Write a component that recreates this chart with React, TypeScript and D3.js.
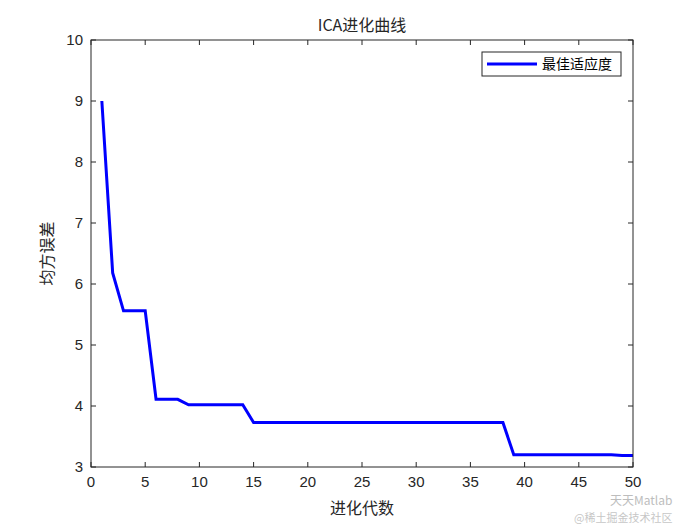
import React from "react";
import * as d3 from "d3";

const generations = d3.range(1, 51);
const fitness = [
  9.0, 6.18, 5.56, 5.56, 5.56, 4.11, 4.11, 4.11, 4.02, 4.02,
  4.02, 4.02, 4.02, 4.02, 3.73, 3.73, 3.73, 3.73, 3.73, 3.73,
  3.73, 3.73, 3.73, 3.73, 3.73, 3.73, 3.73, 3.73, 3.73, 3.73,
  3.73, 3.73, 3.73, 3.73, 3.73, 3.73, 3.73, 3.73, 3.2, 3.2,
  3.2, 3.2, 3.2, 3.2, 3.2, 3.2, 3.2, 3.2, 3.19, 3.19,
];
const xTicks = [0, 5, 10, 15, 20, 25, 30, 35, 40, 45, 50];
const yTicks = [3, 4, 5, 6, 7, 8, 9, 10];
const title = "ICA进化曲线";
const xLabel = "进化代数";
const yLabel = "均方误差";
const legendLabel = "最佳适应度";

const W = 700, H = 525;
const L = 91, R = 633, T = 40, B = 467;
const font = "'Liberation Sans', Arial, sans-serif";
const cjk = "'Noto Sans CJK SC', sans-serif";

export default function App() {
  const x = d3.scaleLinear().domain([0, 50]).range([L, R]);
  const y = d3.scaleLinear().domain([3, 10]).range([B, T]);
  const line = d3.line<number>().x((_, i) => x(generations[i])).y((d) => y(d));
  const tl = 5;
  return (
    <svg width={W} height={H} style={{ position: "absolute", left: 0, top: 0, background: "#fff" }}>
      <rect x={0} y={0} width={W} height={H} fill="#fff" />
      <path d={line(fitness) || ""} fill="none" stroke="#0000ff" strokeWidth={3} strokeLinejoin="miter" />
      <rect x={L} y={T} width={R - L} height={B - T} fill="none" stroke="#262626" strokeWidth={1} />
      {xTicks.map((t) => (
        <g key={"x" + t}>
          <line x1={x(t)} x2={x(t)} y1={B} y2={B - tl} stroke="#262626" />
          <line x1={x(t)} x2={x(t)} y1={T} y2={T + tl} stroke="#262626" />
          <text x={x(t)} y={B + 20} textAnchor="middle" fontFamily={font} fontSize={15} fill="#262626">{t}</text>
        </g>
      ))}
      {yTicks.map((t) => (
        <g key={"y" + t}>
          <line x1={L} x2={L + tl} y1={y(t)} y2={y(t)} stroke="#262626" />
          <line x1={R} x2={R - tl} y1={y(t)} y2={y(t)} stroke="#262626" />
          <text x={L - 8} y={y(t) + 5} textAnchor="end" fontFamily={font} fontSize={15} fill="#262626">{t}</text>
        </g>
      ))}
      <text x={(L + R) / 2} y={31} textAnchor="middle" fontFamily={cjk} fontSize={16} fill="#262626">{title}</text>
      <text x={(L + R) / 2} y={514} textAnchor="middle" fontFamily={cjk} fontSize={16} fill="#262626">{xLabel}</text>
      <text transform={`translate(53, ${(T + B) / 2}) rotate(-90)`} textAnchor="middle" fontFamily={cjk} fontSize={16} fill="#262626">{yLabel}</text>
      <g>
        <rect x={482} y={52} width={139} height={24} fill="#fff" stroke="#262626" strokeWidth={1} />
        <line x1={487} x2={537} y1={64} y2={64} stroke="#0000ff" strokeWidth={3} />
        <text x={542} y={69} fontFamily={cjk} fontSize={14} fill="#000">{legendLabel}</text>
      </g>
      <g opacity={0.55}>
        <text x={610} y={505} fontFamily={cjk} fontSize={12} fill="#888">天天Matlab</text>
        <text x={574} y={522} fontFamily={cjk} fontSize={11} fill="#999">@稀土掘金技术社区</text>
      </g>
    </svg>
  );
}
